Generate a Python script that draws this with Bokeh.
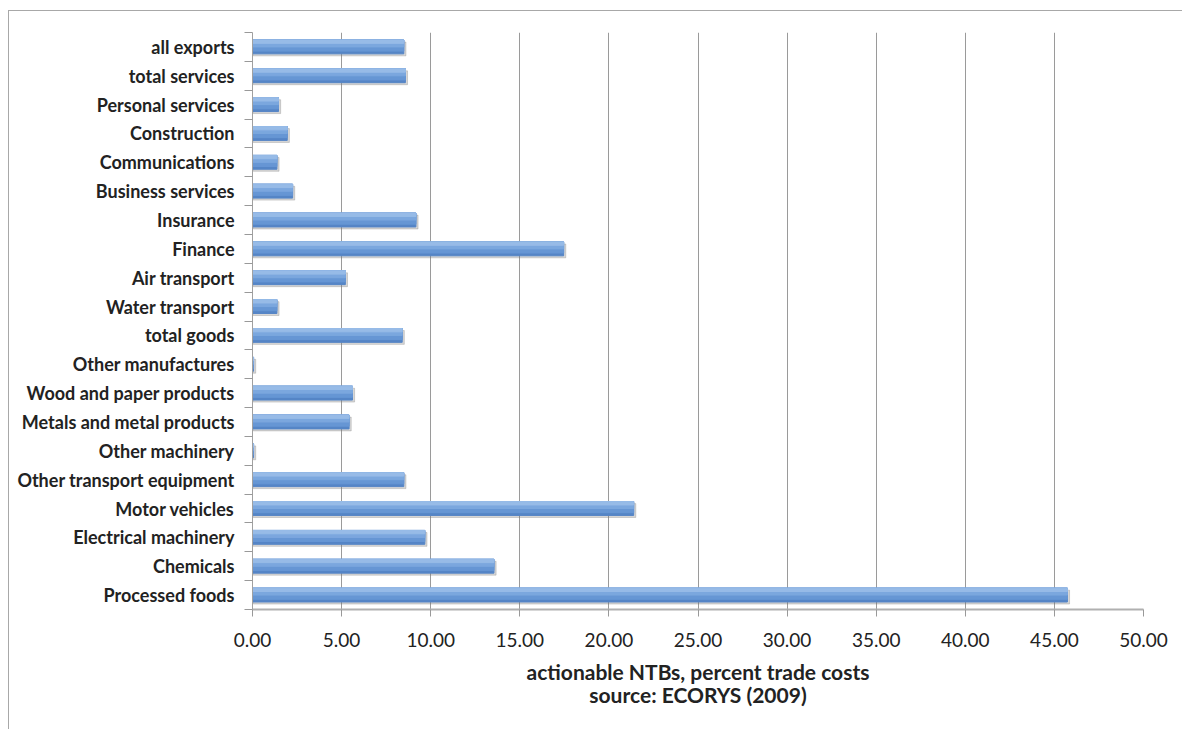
from bokeh.plotting import figure
from bokeh.models import FixedTicker, NumeralTickFormatter, Range1d
from bokeh.embed import file_html
from bokeh.resources import INLINE

# Data (top to bottom as in the chart)
categories = [
    "all exports", "total services", "Personal services", "Construction",
    "Communications", "Business services", "Insurance", "Finance",
    "Air transport", "Water transport", "total goods", "Other manufactures",
    "Wood and paper products", "Metals and metal products", "Other machinery",
    "Other transport equipment", "Motor vehicles", "Electrical machinery",
    "Chemicals", "Processed foods",
]
values = [
    8.49, 8.58, 1.46, 1.95,
    1.37, 2.25, 9.17, 17.46,
    5.21, 1.37, 8.40, 0.06,
    5.61, 5.42, 0.06,
    8.49, 21.39, 9.67,
    13.55, 45.73,
]
x_ticks = [0, 5, 10, 15, 20, 25, 30, 35, 40, 45, 50]

n = len(categories)
ypos = [n - 1 - i for i in range(n)]  # processed foods at bottom

p = figure(width=1174, height=719, output_backend="svg", toolbar_location=None,
           x_range=Range1d(0, 50), y_range=Range1d(-0.5, n - 0.5))
p.margin = (10, 0, 0, 8)
p.styles = {"border-left": "1.5px solid #a8a8a8", "border-top": "1.5px solid #a8a8a8",
            "box-sizing": "border-box"}
p.min_border_left = 243
p.min_border_right = 40
p.min_border_top = 21
p.min_border_bottom = 121
p.outline_line_color = None
p.background_fill_color = "white"
p.border_fill_color = "white"

h = 0.48
# shadow
p.hbar(y=[y - 0.07 for y in ypos], right=[v + 0.12 for v in values], left=0.04,
       height=h, color="#7a7a7a", alpha=0.3)
# main bar with pseudo gradient
p.hbar(y=ypos, right=values, left=0, height=h, color="#5585c6")
p.hbar(y=[y + h * 0.10 for y in ypos], right=values, left=0, height=h * 0.80, color="#6696d4")
p.hbar(y=[y + h * 0.25 for y in ypos], right=values, left=0, height=h * 0.50, color="#7ba7de")
p.hbar(y=[y + h * 0.38 for y in ypos], right=values, left=0, height=h * 0.24, color="#97bbe7")

# x axis
xa = p.xaxis[0]
xa.ticker = FixedTicker(ticks=x_ticks)
xa.formatter = NumeralTickFormatter(format="0.00")
xa.major_label_text_font = "Lato"
xa.major_label_text_font_size = "19px"
xa.major_label_text_color = "#222222"
xa.major_label_standoff = 16
xa.major_tick_out = 7
xa.major_tick_in = 0
xa.minor_tick_line_color = None
xa.axis_line_color = "#b0b0b0"
xa.axis_line_width = 2
xa.major_tick_line_color = "#999999"
xa.axis_label = "actionable NTBs, percent trade costs\nsource: ECORYS (2009)"
xa.axis_label_text_font = "Lato"
xa.axis_label_text_font_style = "bold"
xa.axis_label_text_font_size = "21px"
xa.axis_label_text_line_height = 0.95
xa.axis_label_text_color = "#222222"
xa.axis_label_standoff = 9

# y axis
ya = p.yaxis[0]
ya.ticker = FixedTicker(ticks=ypos, minor_ticks=[k - 0.5 for k in range(n + 1)])
ya.major_label_overrides = {y: c for y, c in zip(ypos, categories)}
ya.major_label_text_font = "Lato"
ya.major_label_text_font_style = "bold"
ya.major_label_text_font_size = "18px"
ya.major_label_text_color = "#222222"
ya.major_tick_line_color = None
ya.major_tick_out = 0
ya.major_tick_in = 0
ya.major_label_standoff = 10
ya.minor_tick_line_color = "#999999"
ya.minor_tick_out = 8
ya.minor_tick_in = 0
ya.axis_line_color = "#a0a0a0"

p.xgrid.ticker = FixedTicker(ticks=x_ticks)
p.xgrid.grid_line_color = "#9a9a9a"
p.ygrid.grid_line_color = None

open("out.html", "w").write(file_html(p, INLINE))
